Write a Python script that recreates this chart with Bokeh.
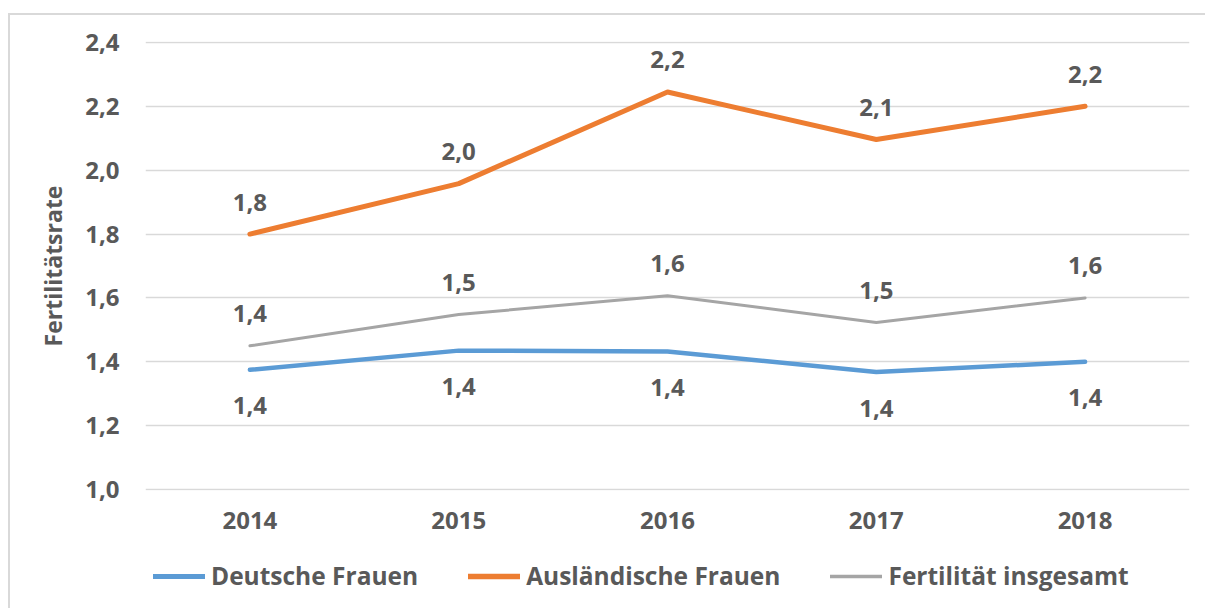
from bokeh.plotting import figure
from bokeh.layouts import column
from bokeh.models import Range1d, FixedTicker, Legend, LegendItem, InlineStyleSheet
from bokeh.core.properties import value
from bokeh.embed import file_html
from bokeh.resources import INLINE

years = ["2014", "2015", "2016", "2017", "2018"]
deutsche = [1.375, 1.435, 1.432, 1.368, 1.40]
auslaend = [1.80, 1.958, 2.245, 2.096, 2.20]
gesamt = [1.450, 1.548, 1.607, 1.523, 1.600]
deutsche_labels = ["1,4", "1,4", "1,4", "1,4", "1,4"]
auslaend_labels = ["1,8", "2,0", "2,2", "2,1", "2,2"]
gesamt_labels = ["1,4", "1,5", "1,6", "1,5", "1,6"]
y_ticks = [1.0, 1.2, 1.4, 1.6, 1.8, 2.0, 2.2, 2.4]
y_tick_labels = ["1,0", "1,2", "1,4", "1,6", "1,8", "2,0", "2,2", "2,4"]
series_names = ["Deutsche Frauen", "Ausländische Frauen", "Fertilität insgesamt"]

FONT = "Open Sans"
TXT = "#595959"
BLUE = "#5B9BD5"
ORANGE = "#ED7D31"
GRAY = "#A5A5A5"
FS = "24px"
STYLES = [(BLUE, 4.5), (ORANGE, 5), (GRAY, 3)]

p = figure(width=1205, height=545, x_range=years, y_range=Range1d(0.997, 2.403),
           output_backend="svg", toolbar_location=None,
           min_border_left=145, min_border_right=16, min_border_top=41, min_border_bottom=55)
p.outline_line_color = None
p.background_fill_color = "white"
p.border_fill_color = "white"

p.xgrid.grid_line_color = None
p.ygrid.grid_line_color = "#d9d9d9"
p.ygrid.grid_line_width = 1.5

p.yaxis.ticker = FixedTicker(ticks=y_ticks)
p.yaxis.major_label_overrides = {t: l for t, l in zip(y_ticks, y_tick_labels)}
for ax in (p.xaxis, p.yaxis):
    ax.axis_line_color = None
    ax.major_tick_line_color = None
    ax.minor_tick_line_color = None
    ax.major_tick_out = 0
    ax.major_tick_in = 0
    ax.major_label_text_font = FONT
    ax.major_label_text_font_style = "bold"
    ax.major_label_text_font_size = FS
    ax.major_label_text_color = TXT
p.yaxis.major_label_standoff = 26
p.xaxis.major_label_standoff = 21
p.yaxis.axis_label = "Fertilitätsrate"
p.yaxis.axis_label_text_font = FONT
p.yaxis.axis_label_text_font_style = "bold"
p.yaxis.axis_label_text_font_size = "23px"
p.yaxis.axis_label_text_color = TXT
p.yaxis.axis_label_standoff = 13

for vals, (col, lw) in zip([deutsche, auslaend, gesamt], STYLES):
    p.line(years, vals, line_color=col, line_width=lw, line_cap="round", line_join="round")

def labels(vals, texts, off):
    p.text(x=years, y=vals, text=texts, y_offset=off, text_align="center",
           text_baseline="middle", text_font=value(FONT), text_font_style="bold",
           text_font_size=FS, text_color=TXT)

labels(deutsche, deutsche_labels, 36)
labels(auslaend, auslaend_labels, -32)
labels(gesamt, gesamt_labels, -32)

# legend strip below the chart
lg = figure(width=1205, height=63, x_range=Range1d(0, 1), y_range=Range1d(0, 1),
            output_backend="svg", toolbar_location=None,
            min_border_left=145, min_border_right=16, min_border_top=0, min_border_bottom=0,
            x_axis_type=None, y_axis_type=None)
lg.outline_line_color = None
lg.grid.grid_line_color = None
lg.background_fill_color = "white"
lg.border_fill_color = "white"
items = []
for name, (col, lw) in zip(series_names, STYLES):
    # out-of-view stub renderer: only its legend swatch is shown
    r = lg.line(x=[-5, -4], y=[-5, -5], line_color=col, line_width=lw + 0.5, line_cap="round")
    items.append(LegendItem(label=name, renderers=[r]))
legend = Legend(items=items, orientation="horizontal", location=(8, 16),
                glyph_width=52, glyph_height=24, label_height=24, label_standoff=6,
                spacing=50, padding=0, margin=0,
                label_text_font=FONT, label_text_font_style="bold",
                label_text_font_size="24.5px", label_text_color=TXT,
                border_line_color=None, background_fill_alpha=0)
lg.add_layout(legend, "center")

layout = column(p, lg, spacing=0)
layout.stylesheets = [InlineStyleSheet(css="""
:host::after {
  content: "";
  position: absolute;
  left: 8px;
  top: 13px;
  width: 1197px;
  height: 595px;
  box-sizing: border-box;
  border-left: 2px solid #d9d9d9;
  border-top: 2px solid #d9d9d9;
  pointer-events: none;
}
""")]

open("out.html", "w").write(file_html(layout, INLINE))
